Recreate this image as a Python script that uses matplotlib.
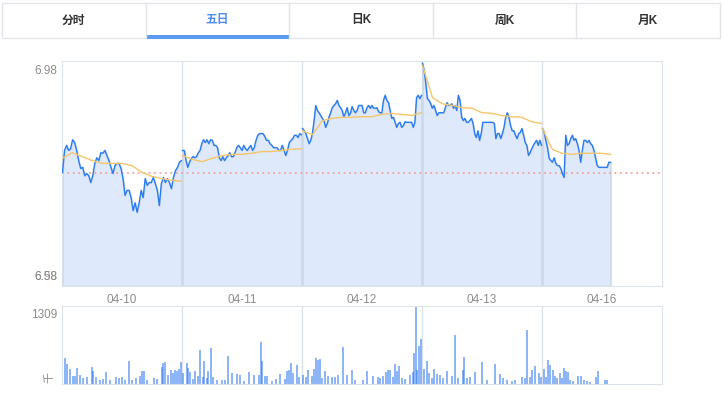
import numpy as np
import matplotlib
matplotlib.use('Agg')
import matplotlib.pyplot as plt
from matplotlib.patches import Rectangle
from matplotlib.lines import Line2D

plt.rcParams['font.family'] = ['Liberation Sans', 'Noto Sans CJK SC', 'DejaVu Sans']

# 标签与坐标
tabs = ['分时', '五日', '日K', '周K', '月K']
active_tab = 1
dates = ['04-10', '04-11', '04-12', '04-13', '04-16']
prev_close = 6.78
price_top, price_bottom = 6.98, 6.58
vol_max = 1309
day_minutes = 240
last_minute = 138  # 最后一个交易日已走到的分钟数

# 五日分时价格
price_d1 = [6.782, 6.821, 6.830, 6.821, 6.824, 6.840, 6.835, 6.821, 6.803, 6.789,
            6.791, 6.776, 6.780, 6.776, 6.764, 6.776, 6.798, 6.808, 6.803, 6.817,
            6.816, 6.821, 6.812, 6.803, 6.791, 6.780, 6.794, 6.798, 6.798, 6.789,
            6.771, 6.741, 6.750, 6.750, 6.737, 6.714, 6.728, 6.711, 6.728, 6.750,
            6.737, 6.771, 6.759, 6.764, 6.764, 6.773, 6.762, 6.750, 6.723, 6.762,
            6.773, 6.764, 6.771, 6.764, 6.753, 6.773, 6.785, 6.791, 6.800, 6.803]
price_d2 = [6.821, 6.821, 6.803, 6.791, 6.800, 6.807, 6.810, 6.808, 6.810, 6.817,
            6.821, 6.833, 6.840, 6.835, 6.840, 6.833, 6.840, 6.839, 6.830, 6.830,
            6.826, 6.808, 6.803, 6.810, 6.803, 6.808, 6.812, 6.817, 6.810, 6.810,
            6.817, 6.826, 6.830, 6.826, 6.821, 6.830, 6.824, 6.821, 6.826, 6.830,
            6.821, 6.826, 6.839, 6.848, 6.851, 6.851, 6.851, 6.846, 6.839, 6.839,
            6.833, 6.830, 6.826, 6.826, 6.826, 6.821, 6.821, 6.830, 6.821, 6.812,
            6.821, 6.835, 6.839, 6.842, 6.848, 6.848, 6.844, 6.851, 6.849]
price_d3 = [6.860, 6.856, 6.851, 6.842, 6.833, 6.839, 6.851, 6.874, 6.901, 6.892,
            6.888, 6.883, 6.878, 6.874, 6.862, 6.869, 6.880, 6.888, 6.897, 6.901,
            6.904, 6.910, 6.901, 6.897, 6.892, 6.880, 6.888, 6.897, 6.883, 6.887,
            6.899, 6.892, 6.888, 6.892, 6.901, 6.901, 6.901, 6.888, 6.888, 6.897,
            6.901, 6.896, 6.901, 6.896, 6.896, 6.897, 6.890, 6.888, 6.888, 6.910,
            6.919, 6.910, 6.906, 6.892, 6.878, 6.880, 6.871, 6.862, 6.869, 6.871,
            6.862, 6.865, 6.872, 6.871, 6.871, 6.871, 6.871, 6.862, 6.871, 6.915,
            6.919, 6.913, 6.919]
price_d4 = [6.976, 6.963, 6.940, 6.913, 6.910, 6.904, 6.896, 6.901, 6.892, 6.883,
            6.888, 6.888, 6.888, 6.888, 6.897, 6.906, 6.901, 6.901, 6.904, 6.896,
            6.901, 6.892, 6.919, 6.910, 6.880, 6.874, 6.878, 6.871, 6.871, 6.874,
            6.878, 6.869, 6.851, 6.844, 6.856, 6.839, 6.851, 6.871, 6.871, 6.871,
            6.871, 6.871, 6.871, 6.871, 6.869, 6.842, 6.851, 6.851, 6.842, 6.851,
            6.862, 6.880, 6.888, 6.880, 6.865, 6.856, 6.856, 6.848, 6.842, 6.851,
            6.853, 6.860, 6.848, 6.835, 6.830, 6.812, 6.817, 6.824, 6.830, 6.835,
            6.839, 6.830, 6.839, 6.830]
price_d5 = [6.860, 6.853, 6.839, 6.826, 6.807, 6.803, 6.800, 6.808, 6.798, 6.794,
            6.794, 6.789, 6.780, 6.773, 6.848, 6.830, 6.833, 6.842, 6.848, 6.839,
            6.842, 6.833, 6.821, 6.800, 6.821, 6.839, 6.839, 6.835, 6.839, 6.833,
            6.830, 6.821, 6.807, 6.794, 6.791, 6.791, 6.791, 6.791, 6.791, 6.791,
            6.800, 6.800]

# 均价线(每20分钟读一次)
avg_d1 = [6.807, 6.817, 6.810, 6.803, 6.798, 6.798, 6.798, 6.794, 6.782, 6.775, 6.771, 6.768, 6.766]
avg_d2 = [6.812, 6.805, 6.801, 6.807, 6.812, 6.814, 6.814, 6.816, 6.819, 6.819, 6.821, 6.823, 6.824]
avg_d3 = [6.856, 6.849, 6.874, 6.878, 6.880, 6.880, 6.881, 6.881, 6.885, 6.887, 6.885, 6.883, 6.888]
avg_d4 = [6.972, 6.915, 6.904, 6.901, 6.897, 6.896, 6.888, 6.887, 6.883, 6.881, 6.880, 6.872, 6.869]
avg_d5 = [6.860, 6.823, 6.816, 6.814, 6.816, 6.816, 6.816, 6.814]

# 成交量(千手)
vol_minutes = [6, 10, 16, 22, 26, 30, 36, 42, 50, 60, 62, 68, 76, 82, 88, 96, 108, 114, 120, 126,
               134, 140, 148, 156, 160, 164, 170, 184, 190, 200, 202, 206, 212, 218, 222, 226, 230, 234, 238,
               242, 250, 252, 256, 262, 266, 272, 276, 282, 284, 290, 292, 298, 302, 310, 320, 326, 332, 340,
               350, 356, 364, 374, 384, 394, 398, 400, 406, 410, 420, 428, 436, 446, 450, 454, 458, 462, 470, 474,
               482, 488, 492, 500, 504, 508, 512, 516, 520, 526, 532, 540, 546, 552, 562, 570, 580, 586, 602, 610,
               622, 632, 636, 642, 648, 652, 656, 662, 666, 670, 674, 680, 686, 696, 702, 704, 708, 710, 714, 718,
               724, 730, 734, 740, 744, 750, 756, 762, 770, 780, 786, 792, 802, 804, 810, 816, 826, 840, 850, 866,
               876, 882, 890, 900, 906, 920, 926, 930, 936, 940, 946, 954, 958,
               964, 968, 972, 976, 982, 986, 990, 996, 1000, 1004, 1008, 1012, 1016, 1022, 1032, 1038, 1044, 1050,
               1056, 1068, 1072, 1086, 1090]
vol_values = [436, 336, 252, 134, 134, 268, 151, 101, 117, 285, 218, 117, 67, 84, 201, 67, 117, 101, 117, 67,
              386, 67, 101, 134, 218, 218, 67, 101, 84, 285, 352, 369, 151, 235, 185, 235, 218, 252, 369,
              185, 352, 268, 201, 84, 218, 134, 571, 117, 386, 101, 218, 604, 117, 67, 67, 67, 470, 185,
              168, 151, 50, 201, 151, 151, 705, 386, 134, 134, 50, 84, 168, 84, 218, 235, 352, 185, 319, 117,
              151, 117, 235, 134, 252, 436, 403, 420, 101, 218, 134, 117, 117, 151, 621, 151, 235, 67, 67, 218,
              134, 117, 101, 134, 201, 235, 235, 117, 336, 218, 302, 101, 84, 151, 201, 520, 1309, 235, 638, 755,
              252, 386, 185, 101, 252, 168, 151, 101, 218, 134, 822, 101, 235, 453, 101, 117, 201, 369, 67, 336,
              168, 101, 67, 50, 67, 117, 101, 906, 117, 235, 302, 185, 117,
              252, 117, 403, 319, 235, 134, 101, 185, 101, 268, 218, 201, 67, 50, 134, 134, 67, 50,
              34, 117, 218, 67, 67]

W, H = 723, 397
fig = plt.figure(figsize=(W / 100, H / 100), dpi=100)


def fx(px):
    return px / W


def fy(py):
    return 1 - py / H


# 顶部选项卡
fig.add_artist(Rectangle((fx(2), fy(38)), 718 / W, 35 / H, fill=False,
                         ec='#e2e5e9', lw=1, transform=fig.transFigure))
tab_w = 718 / len(tabs)
for i, name in enumerate(tabs):
    x0 = 2 + i * tab_w
    if i > 0:
        fig.add_artist(Line2D([fx(x0), fx(x0)], [fy(38), fy(3)], color='#e2e5e9', lw=1,
                              transform=fig.transFigure))
    color = '#4d8ef0' if i == active_tab else '#333333'
    fig.text(fx(x0 + tab_w / 2), fy(20.5), name, ha='center', va='center',
             fontsize=8.5, color=color, fontweight='bold')
    if i == active_tab:
        fig.add_artist(Rectangle((fx(x0 + 1), fy(38.5)), (tab_w - 1) / W, 3 / H,
                                 color='#5b9bf0', lw=0, transform=fig.transFigure))

# 价格图
ax = fig.add_axes([fx(62), fy(286), 600 / W, 225 / H])
ax.set_xlim(0, 5 * day_minutes)
ax.set_ylim(price_bottom, price_top)
for b in range(1, 5):
    ax.axvline(b * day_minutes, color='#dbe2ea', lw=1, zorder=0)

days = [(price_d1, avg_d1), (price_d2, avg_d2), (price_d3, avg_d3), (price_d4, avg_d4), (price_d5, avg_d5)]
for d, (prices, avgs) in enumerate(days):
    end = day_minutes if d < 4 else last_minute
    t = d * day_minutes + np.linspace(1, end - 1, len(prices))
    ta = d * day_minutes + np.linspace(1, end - 1, len(avgs))
    ax.fill_between(t, prices, price_bottom, facecolor='#deeafb', edgecolor='#cdd9e6', lw=1.2, zorder=1)
    ax.plot(t, prices, color='#2b7cf0', lw=1.0, zorder=3)
    ax.plot(ta, avgs, color='#f5c56a', lw=1, zorder=4)

ax.axhline(prev_close, color='#f4a0a0', lw=1.3, ls=(0, (1, 2)), zorder=2)

for s in ax.spines.values():
    s.set_color('#dde3ea')
ax.set_yticks([])
ax.set_xticks([(i + 0.5) * day_minutes for i in range(5)], dates)
ax.tick_params(axis='x', length=0, pad=6, labelsize=8.5, labelcolor='#8c8c8c')

tcol = '#8c8c8c'
ax.text(-5 / 600, 1 - 4 / 225, f'{price_top:.2f}', transform=ax.transAxes,
        ha='right', va='top', fontsize=8.5, color=tcol)
ax.text(-5 / 600, 3 / 225, f'{price_bottom:.2f}', transform=ax.transAxes,
        ha='right', va='bottom', fontsize=8.5, color=tcol)
ax.text(-5 / 600, 3 / 225, f'{price_top:.2f}', transform=ax.transAxes,
        ha='right', va='bottom', fontsize=8.5, color=tcol, alpha=0.8)

# 成交量图
vax = fig.add_axes([fx(62), fy(384), 600 / W, 78 / H])
vax.set_xlim(0, 5 * day_minutes)
vax.set_ylim(0, vol_max)
for b in range(1, 5):
    vax.axvline(b * day_minutes, color='#dbe2ea', lw=1, zorder=0)
vax.bar(vol_minutes, vol_values, width=2.0, color='#1f6fef', lw=0, snap=False, zorder=2)
for s in vax.spines.values():
    s.set_color('#dde3ea')
vax.set_xticks([])
vax.set_yticks([])
vax.text(-5 / 600, 1 - 3 / 78, str(vol_max), transform=vax.transAxes,
         ha='right', va='top', fontsize=8.5, color=tcol)
vax.text(-8 / 600, 1 / 78, '千', transform=vax.transAxes, ha='right', va='bottom',
         fontsize=8, color=tcol, rotation=90)

fig.savefig('out.png', dpi=100)
